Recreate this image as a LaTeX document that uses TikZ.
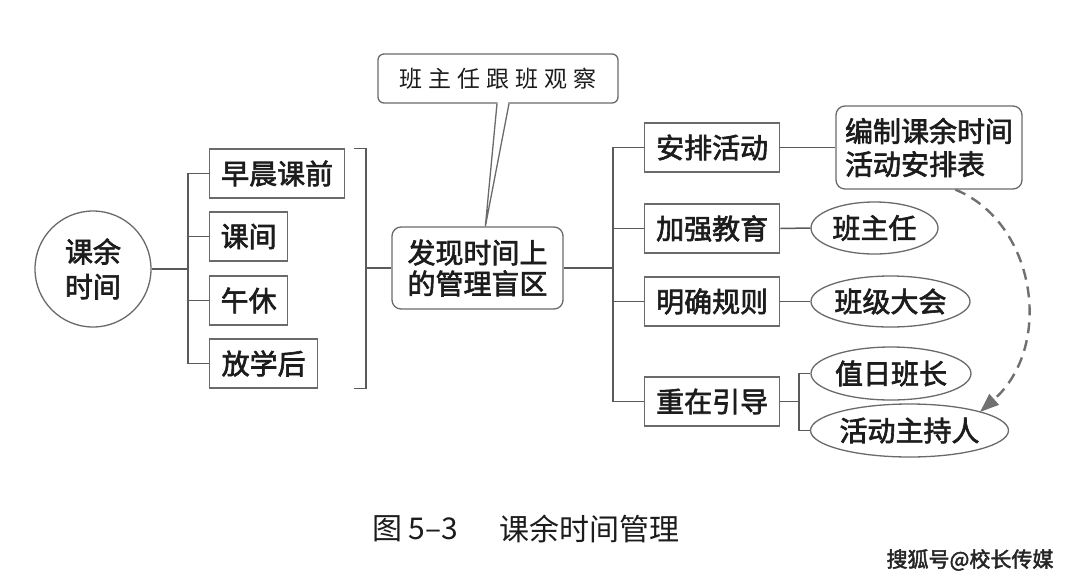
\documentclass[tikz,border=0pt]{standalone}
\usepackage{fontspec}
\setmainfont{Noto Sans CJK SC}[AutoFakeBold=2.2]
\usetikzlibrary{shapes.geometric,arrows.meta,calc}
\definecolor{ln}{HTML}{5A5A5A}
\definecolor{bd}{HTML}{6A6A6A}
\definecolor{tx}{HTML}{1C1C1C}
\definecolor{da}{HTML}{707070}
\begin{document}
\begin{tikzpicture}[x=1pt,y=-1pt,
  base/.style={inner sep=0pt, text=tx, font=\bfseries\fontsize{28}{33}\selectfont, draw=bd, line width=1.3pt, fill=white},
  sqbox/.style={base, rectangle, minimum height=49pt},
  rdbox/.style={base, rectangle, rounded corners=9pt},
  ell/.style={base, ellipse},
  conn/.style={draw=ln, line width=1.5pt},
  dasharrow/.style={draw=da, line width=2.4pt, dash pattern=on 11pt off 7pt, -{Triangle[length=19pt,width=14pt]}},
  captxt/.style={inner sep=0pt, anchor=west, text=tx, font=\fontsize{30}{36}\selectfont}
]
\fill[white] (0,0) rectangle (1080,582);
\useasboundingbox (0,0) rectangle (1080,582);

% left part
\node[base, circle, minimum size=116pt, align=center, font=\bfseries\fontsize{28}{35}\selectfont] (c0) at (93,269) {课余\\时间};
\node[sqbox, minimum width=135pt, anchor=west] (b1) at (209,173.5) {早晨课前};
\node[sqbox, minimum width=78pt, anchor=west] (b2) at (209,236.5) {课间};
\node[sqbox, minimum width=78pt, anchor=west] (b3) at (209,300.5) {午休};
\node[sqbox, minimum width=108pt, anchor=west] (b4) at (209,363.5) {放学后};

\coordinate (s1) at (188,269);
\draw[conn] (c0.east) -- (c0.east -| s1);
\draw[conn] (b1.west) -- (b1.west -| s1) -- (b4.west -| s1) -- (b4.west);
\draw[conn] (b2.west) -- (b2.west -| s1);
\draw[conn] (b3.west) -- (b3.west -| s1);

% middle
\node[rdbox, minimum width=171pt, minimum height=82pt, align=center, font=\bfseries\fontsize{28}{31}\selectfont] (fx) at (477.5,268) {发现时间上\\的管理盲区};

\coordinate (brk) at (366,269);
\draw[conn] ($(b1.north -| brk)+(-12,0)$) -- (b1.north -| brk) -- (b4.south -| brk) -- ++(-12,0);
\draw[conn] (fx.west -| brk) -- (fx.west);

\node[rdbox, rounded corners=6pt, minimum width=240pt, minimum height=49pt, font=\fontsize{23}{26}\selectfont] (cal) at (498,78.5)
  {班\kern6pt主\kern6pt任\kern6pt跟\kern6pt班\kern6pt观\kern6pt察};
\coordinate (t1) at ($(cal.south)+(-1,0)$);
\coordinate (t2) at ($(cal.south)+(11,0)$);
\coordinate (tp) at ($(fx.north west)+(94,0)$);
\fill[white] ($(t1)+(0.7,-1.5)$) -- (tp) -- ($(t2)+(-0.7,-1.5)$) -- cycle;
\draw[draw=bd, line width=1.3pt] (t1) -- (tp) -- (t2);

% right part
\node[sqbox, minimum width=135pt, anchor=west] (r1) at (644,147.5) {安排活动};
\node[sqbox, minimum width=135pt, anchor=west] (r2) at (644,228.5) {加强教育};
\node[sqbox, minimum width=135pt, anchor=west] (r3) at (644,301.5) {明确规则};
\node[sqbox, minimum width=135pt, anchor=west] (r4) at (644,401.5) {重在引导};

\coordinate (s2) at (613,268);
\draw[conn] (fx.east) -- (fx.east -| s2);
\draw[conn] (r1.west) -- (r1.west -| s2) -- (r4.west -| s2) -- (r4.west);
\draw[conn] (r2.west) -- (r2.west -| s2);
\draw[conn] (r3.west) -- (r3.west -| s2);

\node[rdbox, minimum width=186pt, minimum height=83pt, align=left, font=\bfseries\fontsize{28}{33}\selectfont] (bz) at (929,147.5) {编制课余时间\\活动安排表};
\node[ell, minimum width=127pt, minimum height=52pt] (e1) at (874.5,228) {班主任};
\node[ell, minimum width=159pt, minimum height=51pt] (e2) at (890.5,301.5) {班级大会};
\node[ell, minimum width=160pt, minimum height=53pt] (e3) at (891,373.5) {值日班长};
\node[ell, minimum width=197pt, minimum height=53pt] (e4) at (909.5,430.5) {活动主持人};

\draw[conn] (r1.east) -- (bz.west -| r1.east) -- (bz.west);
\draw[conn] (r2.east) -- (e1.west);
\draw[conn] (r3.east) -- (e2.west);
\coordinate (s3) at (799,401.5);
\draw[conn] (r4.east) -- (s3);
\draw[conn] (e3.west) -- (e3.west -| s3) -- (e4.west -| s3) -- (e4.west);

% dashed arrow
\coordinate (ds) at ($(bz.south west)+(120,0)$);
\coordinate (de) at ($(e4.center)+(70.5,-18.5)$);
\draw[dasharrow] (ds) .. controls (1035,222) and (1055,345) .. (de);

% caption
\node[captxt] (cap1) at (372,529) {图 5–3};
\node[captxt] (cap2) at (499,529) {课余时间管理};

% watermark
\node[inner sep=0pt, text=black!85, font=\bfseries\fontsize{21}{24}\selectfont] (wm) at (970,560) {搜狐号@校长传媒};
\end{tikzpicture}
\end{document}
